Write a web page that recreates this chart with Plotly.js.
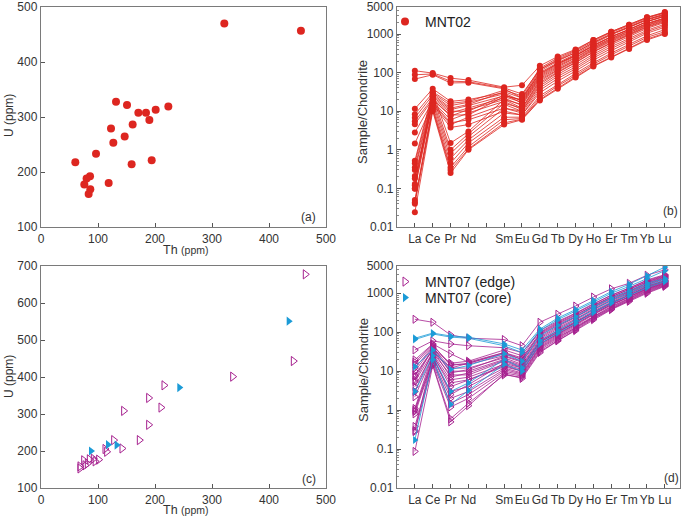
<!DOCTYPE html>
<html><head><meta charset="utf-8">
<script src="https://cdn.plot.ly/plotly-3.0.1.min.js"></script>
<style>html,body{margin:0;padding:0;background:#fff}#c{width:685px;height:517px}</style>
</head><body><div id="c"></div>
<script>
// ---- Panel (a): MNT02 Th vs U ----
const thA = [321.6,456,131.6,150.9,170.8,184.2,201.2,223.4,160.8,190.1,122.8,146.8,126.9,96.5,60.2,159,194.2,86,80,76,118.7,86.5,83.6];
const uA  = [470,456.8,327.6,321.6,307.8,307.8,313.2,319.2,286.2,294.6,279,264.6,253.2,233.3,217.7,214.1,221.3,192.5,188,177.5,179.9,168.5,160];

// ---- Panel (c): MNT07 Th vs U ----
const thEdge = [463.7,442.7,336.3,215.8,188.9,210.5,145,188.9,172.5,127.5,142.1,115.2,101.2,84.8,74.9,81.3,68.4,68.4,77.2,91.8,112.3,95];
const uEdge  = [677.5,443.1,400.9,377.5,343.4,317.4,308.4,270.7,229.4,229.4,206.9,197.9,176.6,177.5,174.8,165.8,158.4,152.9,161.3,179.1,205.4,172];
const thCore = [434.5,242.7,87.7,117.5,132.7];
const uCore  = [551,371.3,200,217,216.1];

// ---- REE ----
const axisCats = ['La','Ce','Pr','Nd','Pm','Sm','Eu','Gd','Tb','Dy','Ho','Er','Tm','Yb','Lu'];
const axisLabels = ['La','Ce','Pr','Nd','','Sm','Eu','Gd','Tb','Dy','Ho','Er','Tm','Yb','Lu'];
const ree = ['La','Ce','Pr','Nd','Sm','Eu','Gd','Tb','Dy','Ho','Er','Tm','Yb','Lu'];

const mnt02 = [
 [112,97,72,64,42,47,150,260,400,700,1150,1750,2700,3600],
 [88,92,60,58,40,28,120,210,330,600,1000,1500,2400,3300],
 [68,88,54,55,38,22,95,170,280,500,850,1300,2100,2900],
 [11.5,38,18,20,30,18,90,170,280,520,850,1350,2100,2900],
 [8.3,30,14,17,28,16,80,150,250,460,780,1200,1900,2600],
 [6.8,26,11,14,25,20,110,200,330,600,1000,1550,2400,3200],
 [5.5,22,9,12,22,14,70,130,220,420,720,1100,1800,2500],
 [4.6,20,7.5,11,20,12,60,115,200,380,650,1000,1650,2300],
 [2.8,18,6,9,18,11,55,105,185,350,600,950,1550,2200],
 [1.45,16,4.5,7,15,10,45,90,160,300,530,850,1400,2000],
 [0.52,32,16,18,35,25,130,240,380,700,1150,1750,2700,3700],
 [0.45,28,12,15,32,22,120,220,360,650,1100,1650,2600,3500],
 [0.35,24,10,10,26,19,100,180,300,560,950,1450,2300,3100],
 [0.3,20,8,8,24,17,85,160,270,500,850,1300,2100,2900],
 [0.21,17,5,6,12,9,40,80,140,270,470,760,1250,1800],
 [0.18,15,3.8,4.5,10,8,35,70,125,240,420,700,1150,1650],
 [0.13,30,1.5,3,20,15,75,140,240,440,750,1150,1850,2600],
 [0.12,25,1.0,2.6,16,12,65,120,210,400,680,1050,1700,2400],
 [0.1,20,0.8,2.2,12,10,50,100,180,340,580,920,1500,2100],
 [0.098,17,0.6,1.8,9,8,30,60,110,210,370,620,1050,1500],
 [0.05,14,0.45,1.5,7,7,25,50,95,180,320,540,900,1300],
 [0.044,12,0.35,1.2,6,6.5,22,45,85,165,290,480,820,1150],
 [0.04,11,0.3,1.05,5,6.2,20,40,78,150,260,430,740,1050],
 [0.024,10,0.25,1.0,4.5,6,19,38,75,145,245,410,700,1000]
];

const mnt07Edge = [
 [215,180,85,70,65,45,180,290,470,800,1300,1800,2900,4000],
 [35,60,50,45,40,30,100,180,300,520,900,1350,2200,3000],
 [19.5,50,28,17,30,20,90,160,270,480,800,1250,2000,2800],
 [15,45,15,15,25,18,75,140,240,430,720,1100,1800,2500],
 [10,40,12,12,22,15,65,120,210,380,650,1000,1650,2300],
 [7.3,35,10,10,20,14,60,110,190,350,600,950,1550,2100],
 [5.4,30,8,8,18,12,55,100,175,320,560,880,1450,2000],
 [4,28,6,7,15,11,50,90,160,300,520,820,1350,1900],
 [2.2,25,5,6,14,10,45,85,150,280,490,780,1300,1800],
 [1.0,22,3,4,12,9,42,80,140,260,460,740,1250,1750],
 [0.92,20,2,3,11,8.5,40,75,130,250,440,720,1200,1700],
 [0.8,18,1.5,2.5,10,8,38,70,125,240,420,700,1150,1650],
 [0.38,16,1.2,2,9,7.5,35,65,120,230,400,680,1100,1600],
 [0.28,15,0.6,1.5,8,7,32,62,115,220,390,650,1050,1550],
 [0.087,14,0.5,1.3,8.5,6.5,30,60,110,210,380,620,1000,1500],
 [3,32,12,16,30,22,95,170,280,490,820,1250,1950,2700],
 [6,38,16,18,35,25,110,190,310,540,880,1350,2100,2900],
 [12,42,9,11,24,17,70,130,220,400,680,1050,1700,2400],
 [0.3,24,2.5,4.5,16,12,55,100,175,320,550,860,1400,2000],
 [1.1,27,4,6,13,10,48,90,160,300,510,800,1300,1850],
 [17,48,14,16,28,20,85,150,250,450,760,1150,1850,2600],
 [8,36,7,9,19,13,58,105,180,330,570,900,1500,2100]
];
const mnt07Core = [
 [70,95,80,75,50,35,120,230,380,650,1100,1700,2800,4700],
 [65,90,75,70,45,30,110,210,350,600,1000,1500,2400,3800],
 [13,35,11,14,28,18,80,150,250,450,750,1150,1800,2400],
 [3,25,3,5,20,12,60,110,200,380,650,1000,1600,2200],
 [0.17,20,1.4,3.2,15,10,50,95,170,320,560,880,1400,2000]
];

const RED='#dd2620', MAG='#a6218f', BLUE='#1b9bd7';
const FONT='Liberation Sans, Arial, sans-serif';
const traces=[];

traces.push({x:thA,y:uA,mode:'markers',type:'scatter',xaxis:'x',yaxis:'y',showlegend:false,
  marker:{color:RED,size:8}});

traces.push({x:[null],y:[null],mode:'markers',type:'scatter',xaxis:'x2',yaxis:'y2',name:'MNT02',legend:'legend',
  marker:{color:RED,size:8}});
mnt02.forEach(s=>traces.push({x:ree,y:s,mode:'lines+markers',type:'scatter',xaxis:'x2',yaxis:'y2',showlegend:false,
  line:{color:RED,width:0.8},marker:{color:RED,size:6}}));

traces.push({x:thEdge,y:uEdge,mode:'markers',type:'scatter',xaxis:'x3',yaxis:'y3',showlegend:false,
  marker:{symbol:'triangle-right-open',color:MAG,size:8,line:{width:1}}});
traces.push({x:thCore,y:uCore,mode:'markers',type:'scatter',xaxis:'x3',yaxis:'y3',showlegend:false,
  marker:{symbol:'triangle-right',color:BLUE,size:8}});

traces.push({x:[null],y:[null],mode:'markers',type:'scatter',xaxis:'x4',yaxis:'y4',name:'MNT07 (edge)',legend:'legend2',
  marker:{symbol:'triangle-right-open',color:MAG,size:8,line:{width:1}}});
traces.push({x:[null],y:[null],mode:'markers',type:'scatter',xaxis:'x4',yaxis:'y4',name:'MNT07 (core)',legend:'legend3',
  marker:{symbol:'triangle-right',color:BLUE,size:8}});
mnt07Edge.forEach(s=>traces.push({x:ree,y:s,mode:'lines+markers',type:'scatter',xaxis:'x4',yaxis:'y4',showlegend:false,
  line:{color:MAG,width:0.8},marker:{symbol:'triangle-right-open',color:MAG,size:7,line:{width:1}}}));
mnt07Core.forEach(s=>traces.push({x:ree,y:s,mode:'lines+markers',type:'scatter',xaxis:'x4',yaxis:'y4',showlegend:false,
  line:{color:BLUE,width:0.8},marker:{symbol:'triangle-right',color:BLUE,size:7}}));

const W=685,H=517;
const TOP=7;
const px=(a,b)=>[a/W,b/W];
const py=(top,bot)=>[(H-bot)/H,(H-top)/H];
const frame={showline:true,mirror:true,linecolor:'#7a7a7a',linewidth:1.2,ticks:'inside',ticklen:4,tickcolor:'#555',
  showgrid:false,zeroline:false,ticklabeloverflow:'allow',tickangle:0,tickfont:{family:FONT,size:12,color:'#333'}};
const logY={...frame,type:'log',range:[-2,3.7],tickmode:'array',
  tickvals:[0.01,0.1,1,10,100,1000,5000],ticktext:['0.01','0.1','1','10','100','1000','5000'],
  minor:{ticks:'inside',ticklen:2,tickcolor:'#888',tickvals:[0.02,0.03,0.04,0.05,0.06,0.07,0.08,0.09,0.2,0.3,0.4,0.5,0.6,0.7,0.8,0.9,2,3,4,5,6,7,8,9,20,30,40,50,60,70,80,90,200,300,400,500,600,700,800,900,2000,3000,4000]}};
const catX={...frame,type:'category',categoryorder:'array',categoryarray:axisCats,tickmode:'array',
  tickvals:axisCats,ticktext:axisLabels,range:[-1,14.85],ticklen:4,tickangle:0,tickfont:{family:FONT,size:12,color:'#333'}};

const legBase={xanchor:'left',yanchor:'middle',bgcolor:'rgba(0,0,0,0)',font:{family:FONT,size:14,color:'#222'},itemwidth:30};
const ann=(text,x,y,o)=>Object.assign({text,x:x/W,y:(H-y)/H,xref:'paper',yref:'paper',showarrow:false,xanchor:'center',yanchor:'middle',font:{size:12,color:'#333'}},o||{});

const layout={width:W,height:H,margin:{l:0,r:0,t:0,b:0},paper_bgcolor:'#fff',plot_bgcolor:'#fff',
  font:{family:FONT,color:'#333'},
  xaxis:{...frame,domain:px(41,326),range:[0,500],tickvals:[0,100,200,300,400,500],anchor:'y'},
  yaxis:{...frame,domain:py(TOP,227),range:[100,500],tickvals:[100,200,300,400,500],anchor:'x'},
  xaxis2:{...catX,domain:px(397,680),anchor:'y2'},
  yaxis2:{...logY,domain:py(TOP,227),anchor:'x2'},
  xaxis3:{...frame,domain:px(41,326),range:[0,500],tickvals:[0,100,200,300,400,500],anchor:'y3'},
  yaxis3:{...frame,domain:py(266,488),range:[100,700],tickvals:[100,200,300,400,500,600,700],anchor:'x3'},
  xaxis4:{...catX,domain:px(397,680),anchor:'y4'},
  yaxis4:{...logY,domain:py(266,488),anchor:'x4'},
  legend:{...legBase,x:385/W,y:(H-22)/H},
  legend2:{...legBase,x:385/W,y:(H-282)/H},
  legend3:{...legBase,x:385/W,y:(H-298)/H},
  annotations:[
    ann('(a)',318,217,{xanchor:'right'}),
    ann('(b)',680,211,{xanchor:'right'}),
    ann('(c)',318,479,{xanchor:'right'}),
    ann('(d)',681,478,{xanchor:'right'}),
    ann('Th <span style="font-size:10.5px">(ppm)</span>',185,250,{font:{size:12.5,color:'#333'}}),
    ann('Th <span style="font-size:10.5px">(ppm)</span>',185,510,{font:{size:12.5,color:'#333'}}),
    ann('U (ppm)',9,116,{textangle:-90}),
    ann('U (ppm)',9,377,{textangle:-90}),
    ann('Sample/Chondrite',363,112,{textangle:-90,font:{size:13,color:'#333'}}),
    ann('Sample/Chondrite',363,370,{textangle:-90,font:{size:13,color:'#333'}})
  ]};
Plotly.newPlot('c',traces,layout,{displayModeBar:false,staticPlot:true});
</script></body></html>
